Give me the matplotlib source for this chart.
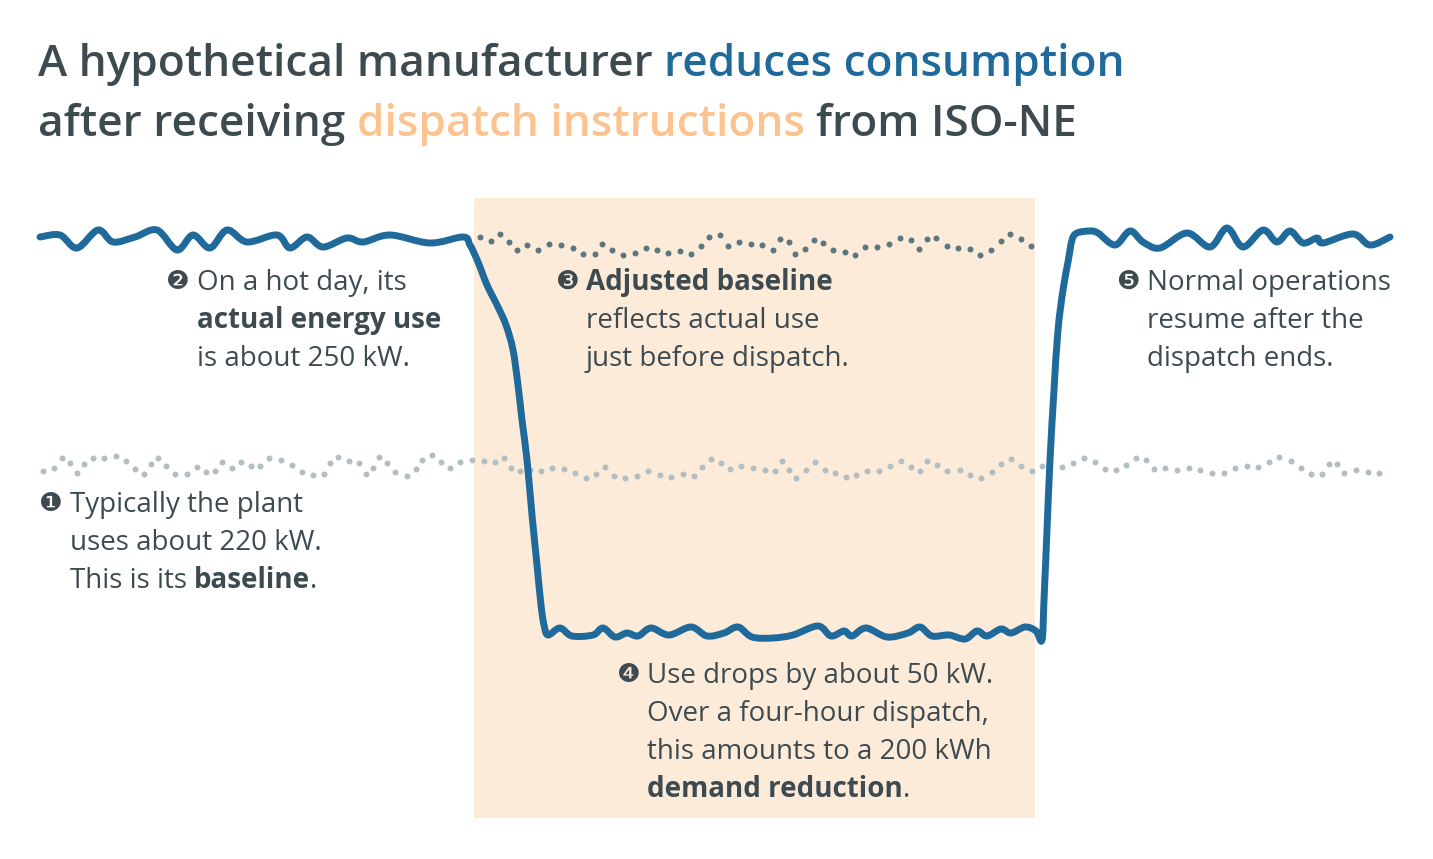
import matplotlib.pyplot as plt
from matplotlib.patches import Rectangle, PathPatch
from matplotlib.path import Path

plt.rcParams['font.family'] = ['Open Sans', 'DejaVu Sans']

# ── values (x = time position, y = chart units, top = high use) ──
use_x = [40, 60, 77, 98, 113, 135, 157, 177, 193, 210, 227, 247, 277, 290, 307, 323, 347, 363, 390, 430, 463,
         470, 478, 487, 497, 506, 513, 518, 522, 527, 532, 537, 541, 544, 548,
         560, 572, 593, 603, 615, 627, 638, 651, 669, 691, 707, 724, 738, 752, 773, 793, 818, 831, 844, 852,
         866, 887, 908, 920, 932, 949, 965, 977, 987, 1001, 1011, 1025, 1036, 1042,
         1044, 1047, 1050, 1054, 1058, 1063, 1068, 1072, 1077,
         1090, 1098, 1115, 1130, 1143, 1160, 1187, 1210, 1227, 1243, 1263, 1277, 1290, 1303, 1317, 1323,
         1353, 1370, 1390]
use_y = [237, 235, 248, 230, 242, 237, 230, 250, 235, 248, 230, 242, 235, 248, 237, 247, 238, 242, 235, 243, 237,
         245, 262, 285, 305, 325, 350, 385, 420, 460, 515, 565, 605, 625, 635,
         628, 636, 635, 628, 637, 633, 636, 628, 635, 627, 636, 633, 627, 637, 638, 635, 626, 636, 631, 636,
         628, 637, 633, 627, 636, 635, 639, 631, 636, 629, 633, 627, 631, 640,
         600, 530, 460, 390, 330, 290, 262, 240, 233,
         231, 233, 245, 231, 242, 248, 233, 247, 228, 247, 230, 242, 231, 243, 238, 243,
         234, 245, 237]

base_x = [42.7, 54, 62, 70, 76.7, 84, 92.7, 104, 115.7, 126, 135, 144, 150.7, 158, 166, 175.3, 186.7, 197,
          206.3, 215, 222, 231.7, 241.3, 251, 260, 269, 280.7, 291.7, 301.7, 313, 324, 330, 338.3, 348.7,
          359.3, 365.7, 373, 378.7, 386.7, 395.3, 406.7, 416, 422.3, 432.3, 441.3, 450.3, 460.3, 472,
          483.7, 494.7, 504, 510.7, 519.6, 530.4, 541.1, 552.5, 564.3, 575.4, 586.4, 596.4, 605.4, 614.3,
          625.4, 637.5, 648.2, 659.6, 671.4, 682.9, 693.9, 701.8, 711.1, 721.1, 730.4, 741.4, 753.2, 764.6,
          774.6, 781.8, 789.3, 796.4, 805.7, 815.4, 824.6, 835, 845.7, 856.1, 866.8, 878.9, 890, 900.7,
          911.1, 920.4, 927.5, 937.1, 947.5, 959.6, 970, 981.1, 991.8, 1000.7, 1011.1, 1021.4, 1032.1,
          1042.5, 1061.7, 1072.7, 1083.7, 1095, 1104.7, 1115.7, 1126.3, 1136.3, 1146, 1154, 1165.3, 1176.7,
          1188.7, 1200.3, 1212, 1223.7, 1235, 1246.7, 1258.3, 1269, 1279.3, 1290.7, 1300.7, 1311, 1322.3,
          1329, 1337, 1344.3, 1356, 1367.7, 1379.3]
base_y = [471, 467.7, 458.3, 462.7, 472.7, 464, 458.3, 457.7, 455.7, 460.7, 468.7, 474.3, 464, 457.7, 466.3,
          474.3, 473.7, 467.3, 472.3, 471.3, 461.7, 467.7, 462.3, 465.7, 465.7, 457.7, 460.3, 465, 471.7,
          474.7, 474, 463.3, 456.7, 461.3, 463.3, 473.7, 467.7, 457, 463.3, 472, 476, 469.3, 459.7, 454.7,
          462.3, 468.3, 462, 460, 461.3, 462.3, 457.7, 468, 471.4, 470.4, 471.4, 467.5, 468.6, 473.2, 478.2,
          474.3, 467.1, 476.1, 477.5, 476.1, 471.1, 475.4, 476.8, 473.6, 476.4, 467.1, 458.9, 463.2, 469.3,
          465.7, 467.5, 470.4, 471.4, 461.1, 469.6, 478.2, 470.4, 462.1, 470.4, 473.2, 477.1, 475, 470.7,
          470.7, 465.7, 461.4, 466.8, 471.1, 460.7, 465, 471.4, 470, 474.6, 477.5, 471.8, 463.6, 458.9,
          465.7, 470.7, 465.7, 467, 463, 458.3, 462, 469.3, 470.3, 465, 458.3, 460.3, 469.3, 468, 470,
          467.7, 470, 472.7, 472.7, 468, 466.3, 466.7, 461.7, 456.7, 461.3, 467.7, 473.7, 473.7, 464, 464,
          473, 470.3, 472, 473.3]

adj_x = [480, 491.5, 500.4, 508.8, 516.9, 527.3, 538.1, 549.2, 560.8, 572.7, 583.5, 594.6, 602.3, 611.9,
         623.1, 634.6, 645.8, 656.9, 668.5, 680, 691.2, 700.8, 709.2, 720, 728.1, 739.2, 750.8, 762.3,
         773.1, 780.4, 788.8, 795.4, 805, 813.8, 823.1, 833.1, 844.6, 855, 865.4, 877.3, 888.8, 899.6,
         910.8, 919.2, 927.3, 936.5, 946.9, 958.5, 970, 980.4, 991.5, 1000.8, 1010, 1021.5, 1031.5]
adj_y = [236.9, 240.8, 233.8, 241.9, 250, 244.6, 249.6, 243.8, 244.6, 247.7, 253.8, 253.8, 243.8, 250,
         254.6, 252.7, 248.1, 250.4, 253.1, 250.8, 253.8, 246.2, 236.5, 235.4, 245.8, 241.5, 243.8, 245,
         250, 238.8, 241.9, 253.5, 248.5, 240, 243.1, 250, 251.5, 254.6, 246.9, 246.9, 243.5, 237.7,
         240, 249.2, 238.8, 238.1, 245.8, 247.7, 248.8, 255, 250.4, 241.2, 233.8, 239.2, 246.2]

dispatch_start, dispatch_end = 474, 1035

TEXT = "#3d4b51"
BLUE = "#1f6a9a"
PEACH = "#fcc38f"

fig = plt.figure(figsize=(14.33, 8.59), dpi=100)
ax = fig.add_axes([0, 0, 1, 1])
ax.set_xlim(0, 1433)
ax.set_ylim(859, 0)
ax.axis("off")

ax.add_patch(Rectangle((dispatch_start, 198), dispatch_end - dispatch_start, 620,
                       facecolor="#fdebd9", edgecolor="none", zorder=0))

ax.plot(base_x, base_y, "o", ms=4.3, color="#b3bec2", mec="none", zorder=1)
ax.plot(adj_x, adj_y, "o", ms=4.3, color="#5d7781", mec="none", zorder=1)

# smooth curve through the read points (Catmull-Rom -> cubic Bezier)
verts = [(use_x[0], use_y[0])]
codes = [Path.MOVETO]
n = len(use_x)
for i in range(n - 1):
    p0 = (use_x[max(i - 1, 0)], use_y[max(i - 1, 0)])
    p1 = (use_x[i], use_y[i])
    p2 = (use_x[i + 1], use_y[i + 1])
    p3 = (use_x[min(i + 2, n - 1)], use_y[min(i + 2, n - 1)])
    c1 = (p1[0] + (p2[0] - p0[0]) / 6, p1[1] + (p2[1] - p0[1]) / 6)
    c2 = (p2[0] - (p3[0] - p1[0]) / 6, p2[1] - (p3[1] - p1[1]) / 6)
    verts += [c1, c2, p2]
    codes += [Path.CURVE4] * 3
ax.add_patch(PathPatch(Path(verts, codes), facecolor="none", edgecolor=BLUE, lw=5.0,
                       capstyle="round", joinstyle="round", zorder=3))

renderer = fig.canvas.get_renderer()


def rich(x, y, parts, size, weight_bold="bold"):
    # draw (text, bold, color) pieces side by side on one line
    for s, bold, col in parts:
        lead = len(s) - len(s.lstrip(" "))
        trail = len(s) - len(s.rstrip(" "))
        w = weight_bold if bold else "normal"
        probe = ax.text(0, 0, "x x", fontsize=size, weight=w)
        probe2 = ax.text(0, 0, "xx", fontsize=size, weight=w)
        sp = probe.get_window_extent(renderer).width - probe2.get_window_extent(renderer).width
        probe.remove()
        probe2.remove()
        x += lead * sp
        core = s.strip(" ")
        if core:
            t = ax.text(x, y, core, fontsize=size, weight=w, color=col, va="baseline", ha="left")
            x += t.get_window_extent(renderer).width
        x += trail * sp


# ── title ────────────────────────────────────────────────────
rich(38, 76, [("A hypothetical manufacturer ", True, TEXT), ("reduces consumption", True, BLUE)],
     31.8, "semibold")
rich(38, 136, [("after receiving ", True, TEXT), ("dispatch instructions", True, PEACH),
               (" from ISO-NE", True, TEXT)], 31.8, "semibold")


def note(x, y, num, lines, size=20, gap=38):
    ax.text(x - 1, y - 1, num, fontsize=size * 0.95, color=TEXT, va="baseline", ha="left",
            family=["DejaVu Sans"])
    for i, parts in enumerate(lines):
        rich(x + 30, y + i * gap, parts, size)


note(167, 290, "\u2777", [[("On a hot day, its", False, TEXT)],
                          [("actual energy use", True, TEXT)],
                          [("is about 250 kW.", False, TEXT)]])
note(556, 290, "\u2778", [[("Adjusted baseline", True, TEXT)],
                          [("reflects actual use", False, TEXT)],
                          [("just before dispatch.", False, TEXT)]])
note(1117, 290, "\u277a", [[("Normal operations", False, TEXT)],
                           [("resume after the", False, TEXT)],
                           [("dispatch ends.", False, TEXT)]])
note(40, 512, "\u2776", [[("Typically the plant", False, TEXT)],
                         [("uses about 220 kW.", False, TEXT)],
                         [("This is its ", False, TEXT), ("baseline", True, TEXT), (".", False, TEXT)]])
note(617, 683, "\u2779", [[("Use drops by about 50 kW.", False, TEXT)],
                          [("Over a four-hour dispatch,", False, TEXT)],
                          [("this amounts to a 200 kWh", False, TEXT)],
                          [("demand reduction", True, TEXT), (".", False, TEXT)]])

fig.savefig("out.png", dpi=100, facecolor="white")
